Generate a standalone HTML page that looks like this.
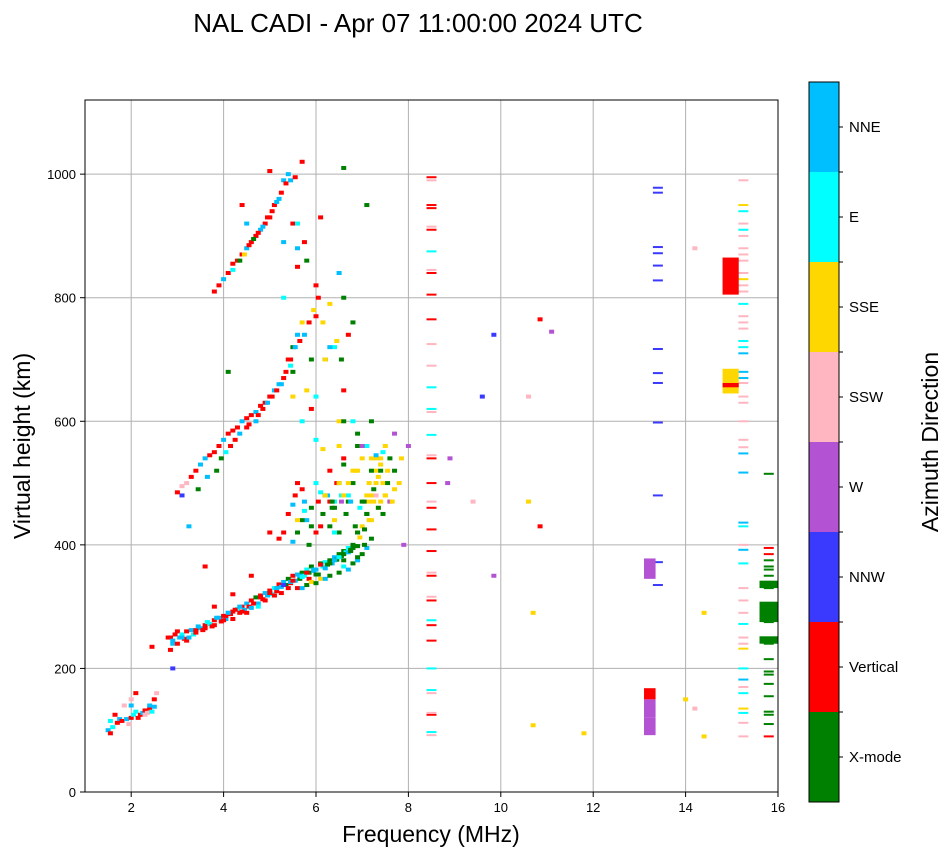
<!DOCTYPE html>
<html><head><meta charset="utf-8"><style>
body{margin:0;background:#fff;font-family:"Liberation Sans",sans-serif}
svg text{font-family:"Liberation Sans",sans-serif}
</style></head><body>
<svg id="chart" width="951" height="856">
<text x="418" y="32" font-size="26" text-anchor="middle">NAL CADI - Apr 07 11:00:00 2024 UTC</text>
<g id="grid"></g>
<g id="marks"></g>
<rect x="85" y="100" width="693" height="692" fill="none" stroke="#000" stroke-width="1"/>
<g id="axes"></g>
<text x="431" y="842" font-size="23" text-anchor="middle">Frequency (MHz)</text>
<text transform="translate(30,446) rotate(-90)" font-size="23" text-anchor="middle">Virtual height (km)</text>
<g id="cbar"></g>
<text transform="translate(938,442) rotate(-90)" font-size="23" text-anchor="middle">Azimuth Direction</text>
</svg>
<script>
const dirNames=["X-mode","Vertical","NNW","W","SSW","SSE","E","NNE"];
const dirColors=["#008000","#ff0000","#3a3aff","#b452d4","#ffb6c1","#ffd700","#00ffff","#00bfff"];
const xTicks=[2,4,6,8,10,12,14,16];
const yTicks=[0,200,400,600,800,1000];
// echo points: frequency (MHz), virtual height (km), direction index
const freqs=[1.5,1.55,1.6,1.7,1.75,1.8,1.9,1.95,2.0,2.0,2.0,2.05,2.1,2.1,2.2,2.25,2.3,2.35,2.4,2.45,2.5,2.5,2.55,
2.8,2.85,2.9,2.95,3.0,3.05,3.1,3.15,3.2,3.3,3.35,3.4,3.5,3.55,3.6,3.7,3.75,3.8,3.9,3.95,4.0,4.05,4.1,4.15,4.2,4.3,4.35,4.4,4.45,4.5,4.55,4.6,4.7,4.75,4.8,4.85,4.9,5.0,5.05,5.1,5.15,5.2,5.25,5.3,5.35,5.4,5.45,5.5,5.55,5.6,5.65,5.7,5.75,5.8,5.85,5.9,5.95,6.0,6.05,6.1,6.15,6.2,6.25,6.3,6.35,6.4,6.45,6.5,6.55,6.6,6.65,6.7,6.75,6.8,6.85,6.9,6.95,7.0,7.05,7.1,7.15,7.2,7.25,7.3,7.35,7.4,7.45,7.5,7.6,7.7,7.8,7.9,
5.2,5.3,5.4,5.5,5.55,5.6,5.7,5.75,5.8,5.9,6.0,6.0,6.1,6.15,6.2,6.3,6.3,6.4,6.4,6.5,6.5,6.6,6.6,6.7,6.7,6.8,6.8,6.9,6.9,7.0,7.0,7.1,7.1,7.2,7.2,7.3,7.3,7.4,7.5,7.6,7.7,6.5,6.0,6.3,5.0,4.6,4.2,3.8,3.6,2.9,3.1,
3.0,3.1,3.2,3.3,3.4,3.5,3.6,3.7,3.8,3.9,4.0,4.1,4.2,4.3,4.4,4.5,4.6,4.7,4.8,4.9,5.0,5.1,5.2,5.3,5.4,5.5,5.5,5.6,5.7,5.8,5.9,6.0,5.9,5.7,5.5,6.2,6.4,6.6,6.6,6.8,6.3,6.0,6.5,6.9,7.1,5.6,5.3,
3.8,3.9,4.0,4.1,4.2,4.3,4.4,4.5,4.6,4.7,4.8,4.9,5.0,5.1,5.2,5.3,5.4,5.5,4.4,4.7,5.3,5.6,5.8,6.1,5.6,6.6,6.2,6.6,5.7,6.0,
8.0,8.85,8.9,9.6,9.85,9.85,10.6,10.85,10.85,11.1,11.8,10.7,10.6,9.4,14.2,14.0,14.4,14.2,14.4,10.7,
// dense extra echoes
1.55,1.65,1.85,2.15,2.3,2.4,2.45,
2.85,2.9,3.0,3.1,3.2,3.25,3.4,3.45,3.6,3.65,3.8,3.85,4.0,4.05,4.1,4.2,4.25,4.35,4.4,4.5,4.6,4.65,4.75,4.8,4.9,4.95,5.0,5.1,5.15,5.25,5.3,5.4,5.45,5.5,5.6,5.65,5.7,5.8,5.85,5.95,6.0,6.1,6.2,6.3,6.4,6.5,6.6,6.7,6.8,6.9,
5.5,5.6,5.7,5.75,5.85,5.9,6.05,6.1,6.25,6.35,6.45,6.55,6.65,6.75,6.85,6.95,7.05,7.15,7.25,7.35,7.45,7.55,7.65,7.7,7.85,6.2,6.4,6.55,6.7,6.85,7.0,7.1,7.2,7.3,7.4,7.5,7.6,6.15,6.35,6.5,6.8,7.0,7.2,7.35,7.45,7.55,6.6,6.9,7.15,7.3,7.4,
5.6,5.7,5.8,5.9,6.0,6.1,6.2,6.3,6.5,6.6,6.7,6.8,6.9,7.0,7.1,7.2,6.4,6.6,6.75,6.9,7.05,
3.25,3.45,3.65,3.85,3.95,4.05,4.15,4.25,4.35,4.5,4.55,4.7,4.75,4.85,4.95,5.05,5.15,5.25,5.35,5.45,5.45,5.55,5.65,5.75,5.85,5.95,6.05,6.15,6.3,6.45,6.55,6.7,
4.1,4.2,4.35,4.45,4.55,4.65,4.75,4.85,4.95,5.05,5.15,5.25,5.35,5.45,5.55,5.0,4.5,5.75,6.5];
const heights=[100,95,105,112,118,115,118,110,120,140,150,125,160,130,125,128,132,128,135,130,138,150,160,
250,230,240,255,260,250,255,248,245,262,255,258,265,262,270,272,268,278,282,276,285,280,290,288,292,296,290,300,295,305,300,310,315,305,318,312,322,326,320,330,325,336,332,340,335,345,338,350,342,352,345,355,350,360,355,365,358,360,352,370,365,372,368,375,370,380,376,385,382,390,388,395,392,400,398,420,412,430,425,450,440,480,470,520,510,540,500,480,470,490,500,
400,410,420,450,465,480,500,490,470,440,460,420,500,485,450,480,430,520,470,460,420,500,540,530,470,480,600,500,560,520,470,560,450,480,440,520,500,540,530,480,470,580,600,640,470,420,350,320,300,365,200,
480,485,495,500,510,520,530,540,545,550,560,570,580,585,590,600,605,610,615,625,630,640,650,660,670,700,640,720,740,760,650,700,770,620,600,680,700,720,650,600,760,790,820,560,580,950,880,
800,810,820,830,840,855,860,870,880,890,900,910,920,930,950,960,990,1000,920,950,900,890,850,860,930,920,800,700,1010,1020,
570,560,500,540,640,350,740,470,430,765,745,95,290,640,470,135,150,290,880,90,
108,115,125,140,120,125,140,
235,250,245,240,250,260,250,262,268,265,275,270,282,278,285,290,280,295,300,292,290,298,305,300,315,310,318,322,318,330,322,335,330,340,342,330,350,348,355,345,360,352,368,362,370,375,380,385,388,395,398,405,
420,440,455,400,430,470,430,480,460,500,480,450,470,430,460,470,500,490,460,450,520,470,520,540,480,440,470,500,520,540,560,600,545,520,560,540,555,470,500,520,560,540,460,550,500,480,420,470,480,470,440,
330,335,340,338,345,345,350,355,365,360,370,375,385,395,410,420,375,390,380,400,430,
490,510,520,540,550,560,570,580,590,595,600,610,620,630,640,650,660,680,690,700,720,730,740,760,780,800,760,720,730,700,740,680,
845,860,870,885,895,905,915,930,940,955,970,985,990,995,1005,920,890,840,860];
const dirs=[7,1,6,1,7,1,7,4,1,7,4,6,1,6,1,7,1,4,1,6,7,1,4,
1,1,7,1,1,7,6,1,1,7,6,1,7,1,1,6,1,1,7,1,1,7,7,1,1,6,1,1,7,7,1,1,0,7,1,1,7,1,6,6,1,1,7,7,0,0,1,1,7,7,0,0,6,6,0,0,7,7,0,0,6,6,0,0,7,7,0,0,0,0,6,6,0,0,0,0,5,5,0,0,5,5,5,5,5,5,5,5,5,5,5,3,
1,1,1,7,1,1,1,7,7,0,1,6,6,0,0,0,1,6,0,0,7,1,0,0,6,6,0,0,5,0,5,0,5,5,0,5,5,5,5,3,3,5,6,1,1,1,1,1,1,2,2,
1,4,4,1,1,7,7,1,1,1,7,1,1,1,7,1,1,7,1,1,1,7,7,1,1,5,0,7,5,5,0,1,1,6,0,0,6,1,0,0,5,1,5,0,0,7,6,
1,1,7,1,1,1,1,7,1,7,7,1,1,1,7,7,7,1,1,1,7,1,0,1,6,0,5,0,1,6,
3,3,3,2,3,2,5,1,1,3,5,5,4,4,4,5,5,4,5,5,
6,1,4,1,4,7,1,
1,7,1,7,1,7,1,7,1,6,1,7,1,1,7,1,1,7,1,1,7,1,6,1,1,7,1,1,7,1,2,1,7,1,1,7,6,1,1,7,0,1,7,0,7,6,0,7,0,0,7,0,0,6,0,0,
1,1,7,0,1,6,0,7,0,6,0,5,0,5,0,5,5,0,5,5,5,3,5,5,5,6,0,7,0,5,0,5,0,5,5,3,5,0,6,0,5,0,5,4,5,5,7,0,5,0,5,
7,0,0,6,7,0,7,0,7,0,6,0,0,0,0,7,0,7,0,0,6,
1,1,7,1,1,7,1,1,7,1,1,7,1,6,1,7,1,7,1,5,1,5,7,5,0,1,0,6,0,5,1,0,
1,7,1,1,7,1,1,7,1,1,7,1,7,7,1,1,1,0,6];
// narrow-band stripes: frequency, height, direction index
const stripeFreqs=[];const stripeHeights=[];const stripeDirs=[];
const col85=[92,97,125,128,160,165,200,245,270,278,310,316,350,355,390,425,460,470,500,540,545,578,615,620,655,690,725,765,805,840,845,875,910,915,945,950,990,995];
const col85c=[4,6,1,4,4,6,6,1,1,6,1,4,1,4,1,1,1,4,1,1,4,6,4,6,6,4,4,1,1,1,4,6,1,4,1,1,4,1];
const col134=[335,372,480,598,662,678,717,828,852,872,882,970,978];
const col152=[90,112,128,135,160,170,182,200,232,240,250,272,290,310,330,370,392,400,430,436,517,548,558,570,600,630,640,662,670,680,710,720,730,750,760,770,790,810,820,830,840,860,870,880,900,910,920,940,950,990];
const col152c=[4,4,6,5,6,4,7,6,5,4,4,6,4,4,4,6,7,4,6,7,7,7,4,4,4,4,4,4,7,7,7,6,6,4,4,4,6,4,4,5,4,4,4,4,4,6,4,6,5,4];
const col158=[90,110,125,130,155,175,190,195,215,240,248,275,285,300,305,330,340,350,360,365,375,385,395,515];
const col158c=[1,0,0,0,0,0,0,0,0,0,0,0,0,1,0,0,0,0,0,0,0,1,1,0];
col85.forEach((h,i)=>{stripeFreqs.push(8.5);stripeHeights.push(h);stripeDirs.push(col85c[i]);});
col134.forEach(h=>{stripeFreqs.push(13.4);stripeHeights.push(h);stripeDirs.push(2);});
col152.forEach((h,i)=>{stripeFreqs.push(15.25);stripeHeights.push(h);stripeDirs.push(col152c[i]);});
col158.forEach((h,i)=>{stripeFreqs.push(15.8);stripeHeights.push(h);stripeDirs.push(col158c[i]);});
// solid blocks: freq start, freq end, height low, height high, direction
const blockF0=[13.1,13.1,13.1,13.1,14.8,14.8,14.8,15.6,15.6,15.6];
const blockF1=[13.35,13.35,13.35,13.35,15.15,15.15,15.15,16.0,16.0,16.0];
const blockH0=[92,120,150,345,805,645,655,330,275,240];
const blockH1=[120,150,168,378,865,685,662,342,308,252];
const blockD=[3,3,1,3,1,5,1,0,0,0];

const NS="http://www.w3.org/2000/svg";
const X=f=>85+(f-1)*(693/15);
const Y=h=>792-h*(692/1120);
function mk(tag,attrs,parent){const e=document.createElementNS(NS,tag);for(const k in attrs)e.setAttribute(k,attrs[k]);parent.appendChild(e);return e;}
const grid=document.getElementById('grid'),marks=document.getElementById('marks'),axes=document.getElementById('axes'),cbar=document.getElementById('cbar');
xTicks.forEach(t=>{
 if(t<16){const l=mk('line',{x1:X(t),x2:X(t),y1:100,y2:792,stroke:'#b0b0b0','stroke-width':1},grid);
 
 }
 const tk=mk('line',{x1:X(t),x2:X(t),y1:792,y2:797,stroke:'#000'},axes);
 
 
 const tx=mk('text',{x:X(t),y:812,'font-size':13,'text-anchor':'middle'},axes);tx.textContent=t;
 
 
});
yTicks.forEach(t=>{
 if(t>0){const l=mk('line',{x1:85,x2:778,y1:Y(t),y2:Y(t),stroke:'#b0b0b0','stroke-width':1},grid);
 
 }
 const tk=mk('line',{x1:80,x2:85,y1:Y(t),y2:Y(t),stroke:'#000'},axes);
 
 
 const tx=mk('text',{x:76,y:Y(t)+5,'font-size':13,'text-anchor':'end'},axes);tx.textContent=t;
 
 
});
freqs.forEach((f,i)=>{
 const r=mk('rect',{x:X(f)-2.5,y:Y(heights[i])-2,width:5,height:4,fill:dirColors[dirs[i]]},marks);
 
 
});
stripeFreqs.forEach((f,i)=>{
 const r=mk('rect',{x:X(f)-5,y:Y(stripeHeights[i])-1,width:10,height:2,fill:dirColors[stripeDirs[i]]},marks);
 
 
});
blockF0.forEach((f,i)=>{
 const r=mk('rect',{x:X(f),y:Y(blockH1[i]),width:X(blockF1[i])-X(f),height:Y(blockH0[i])-Y(blockH1[i]),fill:dirColors[blockD[i]]},marks);
 
 
});
const cb0=82,cbH=720,seg=cbH/8;
dirNames.forEach((n,i)=>{
 const y=cb0+cbH-(i+1)*seg;
 const r=mk('rect',{x:809,y:y,width:30,height:seg,fill:dirColors[i]},cbar);
 
 
 mk('line',{x1:839,x2:843,y1:y+seg/2,y2:y+seg/2,stroke:'#000'},cbar);
 if(i>0)mk('line',{x1:839,x2:843,y1:y+seg,y2:y+seg,stroke:'#000'},cbar);
 const t=mk('text',{x:849,y:y+seg/2+5,'font-size':15},cbar);t.textContent=n;
 
 
});
mk('rect',{x:809,y:cb0,width:30,height:cbH,fill:'none',stroke:'#000'},cbar);
</script>
</body></html>
